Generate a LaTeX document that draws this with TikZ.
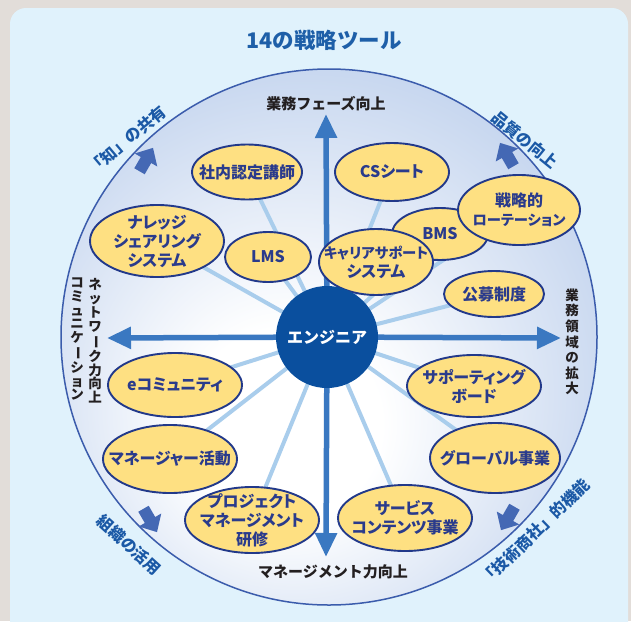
\documentclass[tikz,border=0pt]{standalone}
\usepackage{fontspec}
\usepackage{graphicx}
\setmainfont{Noto Sans CJK JP}
\newfontfamily\jpprop{Noto Sans CJK JP}[RawFeature=+palt]
\usetikzlibrary{arrows.meta,shapes.geometric}

\definecolor{bggray}{HTML}{E2DDD9}
\definecolor{panelc}{HTML}{E0F2FC}
\definecolor{titleblue}{HTML}{1E5FA8}
\definecolor{cornerblue}{HTML}{1B59A6}
\definecolor{cornerarrowc}{HTML}{4468B4}
\definecolor{rimblue}{HTML}{3B5CAC}
\definecolor{edgeblue}{HTML}{8BABDA}
\definecolor{midblue}{HTML}{C6D6EF}
\definecolor{axisblue}{HTML}{3A78C1}
\definecolor{spokec}{HTML}{A9CDEC}
\definecolor{engblue}{HTML}{0A4F9E}
\definecolor{ellfill}{HTML}{FEE082}
\definecolor{ellline}{HTML}{22398A}
\definecolor{elltext}{HTML}{2A3B8C}
\definecolor{labeltext}{HTML}{231F20}

\pgfdeclareradialshading{bigglow}{\pgfpoint{-5bp}{-10bp}}{color(0bp)=(white); color(9bp)=(white); color(30bp)=(midblue); color(50bp)=(edgeblue)}

\newcommand{\vbarchar}{\rotatebox[origin=c]{-90}{ー}}
\newcommand{\narrowtxt}[1]{{\fontsize{14.3}{19}\selectfont #1}}

\tikzset{
  ell/.style={ellipse, draw=ellline, line width=1.9pt, fill=ellfill, text=elltext,
    font=\jpprop\bfseries\fontsize{16}{19}\selectfont, align=center, inner sep=-30pt},
  spokeline/.style={draw=spokec, line width=4pt},
  axisarrow/.style={draw=axisblue, line width=5.5pt, -{Triangle[length=24pt,width=21pt]}},
  axislabel/.style={text=labeltext, font=\bfseries\fontsize{15}{15}\selectfont, inner sep=0pt},
  vlabel/.style={text=labeltext, font=\bfseries\fontsize{13.5}{13.9}\selectfont, align=center, inner sep=0pt},
  cornerlabel/.style={text=cornerblue, font=\bfseries\fontsize{16}{16}\selectfont, inner sep=0pt},
  cornerarrow/.pic={\fill[cornerarrowc] (-13,-6) -- (0,-6) -- (0,-13) -- (14,0) -- (0,13) -- (0,6) -- (-13,6) -- cycle;}
}

\begin{document}
\begin{tikzpicture}[x=1pt,y=-1pt]
\useasboundingbox (0,0) rectangle (631,621);
\clip (0,0) rectangle (631,621);
\fill[bggray] (0,0) rectangle (631,621);
\fill[panelc, rounded corners=16pt] (10,8) rectangle (628,680);

% title
\node[text=titleblue, font=\bfseries\fontsize{21.5}{24}\selectfont] (title) at (324,40) {14の戦略ツール};

% big circle
\shade[shading=bigglow] (329,337) circle[radius=268];
\draw[rimblue, line width=1.5pt] (329,337) circle[radius=268];

% corner arrows and labels
\pic[rotate=60] at (146,160) {cornerarrow};
\pic[rotate=120] at (507,155) {cornerarrow};
\pic[rotate=-60] at (150,520) {cornerarrow};
\pic[rotate=-120] at (508,518) {cornerarrow};
\node[cornerlabel, rotate=40] (chi) at (127,140) {「知」の共有};
\node[cornerlabel, rotate=-39] (hinshitsu) at (525,140) {品質の向上};
\node[cornerlabel, rotate=-42] (soshiki) at (129,545) {組織の活用};
\node[cornerlabel, rotate=44] (gijutsu) at (535,532) {「技術商社」的機能};

% centre coordinate
\coordinate (c) at (327,337);
\coordinate (ttop) at (326,114);
\coordinate (tbot) at (326,557);
\coordinate (tleft) at (107,338);
\coordinate (tright) at (561,338);

% ellipse centres (for spokes)
\coordinate (p1) at (247,172);
\coordinate (p2) at (392,172);
\coordinate (p3) at (519,210);
\coordinate (p4) at (440,234);
\coordinate (p5) at (376,262);
\coordinate (p6) at (268,257);
\coordinate (p7) at (157,241);
\coordinate (p8) at (494,294);
\coordinate (p9) at (175,385);
\coordinate (p10) at (170,459);
\coordinate (p11) at (252,520);
\coordinate (p12) at (474,386);
\coordinate (p13) at (495,458);
\coordinate (p14) at (405,518);

\foreach \p in {p1,p2,p3,p4,p5,p6,p7,p8,p9,p10,p11,p12,p13,p14}
  \draw[spokeline] (c) -- (\p);

% axes
\draw[axisarrow] (c) -- (ttop);
\draw[axisarrow] (c) -- (tbot);
\draw[axisarrow] (c) -- (tleft);
\draw[axisarrow] (c) -- (tright);

% axis labels
\node[axislabel] (lt) at (326,104) {業務フェーズ向上};
\node[axislabel] (lb) at (333,572) {マネージメント力向上};
\node[vlabel] (ll1) at (95,341) {ネ\\ッ\\ト\\ワ\\\vbarchar\\ク\\力\\向\\上};
\node[vlabel] (ll2) at (77,339) {コ\\ミ\\ュ\\ニ\\ケ\\\vbarchar\\シ\\ョ\\ン};
\node[vlabel, font=\bfseries\fontsize{13.5}{15.6}\selectfont] (lr) at (572,342) {業\\務\\領\\域\\の\\拡\\大};

% ellipses
\node[ell, minimum width=110pt, minimum height=55pt] (e1) at (p1) {社内認定講師};
\node[ell, minimum width=114pt, minimum height=58pt] (e2) at (p2) {CSシート};
\node[ell, minimum width=96pt, minimum height=52pt] (e4) at (p4) {BMS};
\node[ell, minimum width=122pt, minimum height=70pt] (e3) at (p3) {戦略的\\\narrowtxt{ローテーション}};
\node[ell, minimum width=114pt, minimum height=66pt] (e5) at (p5) {\narrowtxt{キャリアサポート}\\システム};
\node[ell, minimum width=86pt, minimum height=50pt] (e6) at (p6) {LMS};
\node[ell, minimum width=134pt, minimum height=72pt] (e7) at (p7) {ナレッジ\\シェアリング\\システム};
\node[ell, minimum width=100pt, minimum height=46pt] (e8) at (p8) {公募制度};
\node[ell, minimum width=134pt, minimum height=64pt] (e9) at (p9) {eコミュニティ};
\node[ell, minimum width=134pt, minimum height=68pt] (e10) at (p10) {マネージャー活動};
\node[ell, minimum width=134pt, minimum height=66pt] (e11) at (p11) {プロジェクト\\マネージメント\\研修};
\node[ell, minimum width=134pt, minimum height=62pt] (e12) at (p12) {サポーティング\\ボード};
\node[ell, minimum width=130pt, minimum height=70pt] (e13) at (p13) {グローバル事業};
\node[ell, minimum width=134pt, minimum height=66pt] (e14) at (p14) {サービス\\コンテンツ事業};

% engineer
\node[circle, fill=engblue, minimum size=102pt, inner sep=0pt, text=white,
  font=\bfseries\fontsize{16}{18}\selectfont] (eng) at (c) {エンジニア};
\end{tikzpicture}
\end{document}
